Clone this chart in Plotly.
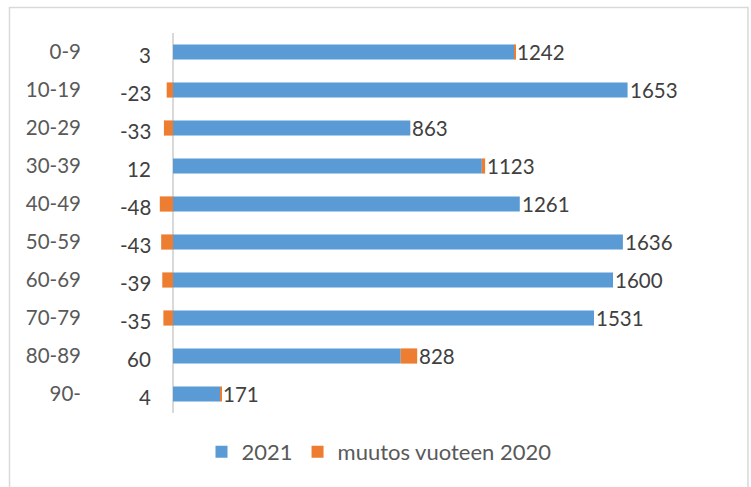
import plotly.graph_objects as go

categories = ["0-9", "10-19", "20-29", "30-39", "40-49", "50-59", "60-69", "70-79", "80-89", "90-"]
values_2021 = [1242, 1653, 863, 1123, 1261, 1636, 1600, 1531, 828, 171]
change_2020 = [3, -23, -33, 12, -48, -43, -39, -35, 60, 4]
series_names = ["2021", "muutos vuoteen 2020"]

BLUE = "#5B9BD5"
ORANGE = "#ED7D31"
FONT = "Lato"

W, H = 751, 487
ML, MR, MT, MB = 155, 51, 33, 74
PW = W - ML - MR
PH = H - MT - MB


def px_x(p):
    return (p - ML) / PW


def px_y(p):
    return (H - MB - p) / PH


fig = go.Figure()
fig.add_trace(go.Bar(
    y=categories, x=values_2021, orientation="h", name=series_names[0],
    marker=dict(color=BLUE, line=dict(width=0)),
))
fig.add_trace(go.Bar(
    y=categories, x=change_2020, orientation="h", name=series_names[1],
    marker=dict(color=ORANGE, line=dict(width=0)),
))

annotations = []
for cat, v, c in zip(categories, values_2021, change_2020):
    annotations.append(dict(
        x=v + max(c, 0), y=cat, xref="x", yref="y", text=str(v),
        showarrow=False, xanchor="left", yanchor="middle",
        font=dict(family=FONT, size=20.5, color="#404040"),
    ))
    annotations.append(dict(
        x=px_x(153), y=cat, xref="paper", yref="y", text=str(c),
        showarrow=False, xanchor="right", yanchor="middle", yshift=-3,
        font=dict(family=FONT, size=20.5, color="#404040"),
    ))

fig.update_layout(
    width=W, height=H,
    margin=dict(l=ML, r=MR, t=MT, b=MB, pad=0),
    barmode="relative",
    bargap=0.6,
    plot_bgcolor="white",
    paper_bgcolor="white",
    font=dict(family=FONT, size=20, color="#595959"),
    xaxis=dict(
        range=[-(173 - ML) / 0.275, (W - MR - 173) / 0.275],
        showgrid=False, showticklabels=False, ticks="",
        zeroline=True, zerolinecolor="#d9d9d9", zerolinewidth=1.5,
        showline=False, fixedrange=True,
    ),
    yaxis=dict(
        autorange="reversed", showgrid=False, ticks="", showline=False,
        zeroline=False, ticklabelstandoff=73,
        tickfont=dict(family=FONT, size=20.5, color="#595959"),
    ),
    legend=dict(
        orientation="h", x=px_x(379), xanchor="center",
        y=px_y(452), yanchor="middle",
        font=dict(family=FONT, size=22, color="#595959"),
        traceorder="normal", itemwidth=30,
    ),
    annotations=annotations,
    shapes=[dict(
        type="rect", xref="paper", yref="paper",
        x0=px_x(9.5), x1=px_x(748), y0=px_y(492), y1=px_y(7.5),
        line=dict(color="#d9d9d9", width=1.5), layer="below",
    )],
)

fig.write_html(
    "out.html",
    config={"displayModeBar": False},
    post_script="document.body.style.margin='0';document.body.style.overflow='hidden';",
)
